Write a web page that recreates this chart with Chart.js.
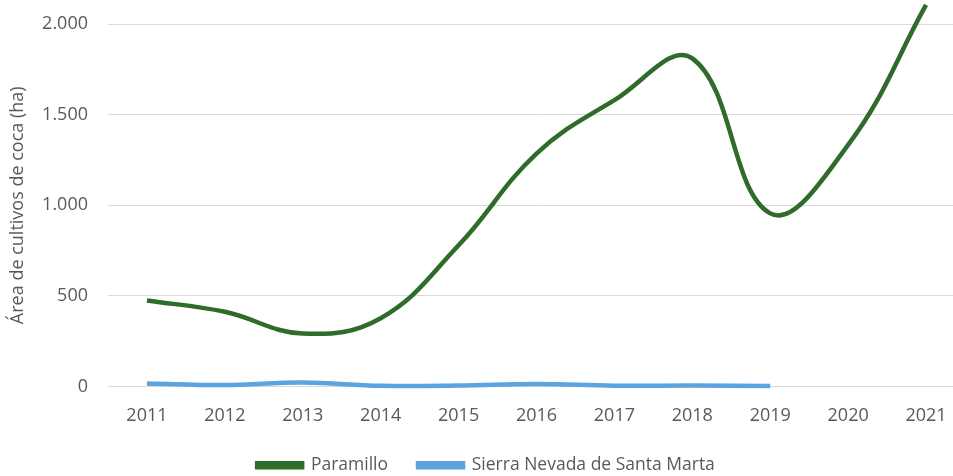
<!DOCTYPE html>
<html>
<head>
<meta charset="utf-8">
<script src="https://cdn.jsdelivr.net/npm/chart.js@4"></script>
<style>
  html, body { margin: 0; padding: 0; background: #fff; overflow: hidden; }
  #wrap { width: 966px; height: 476px; }
</style>
</head>
<body>
<div id="wrap"><canvas id="lineChart"></canvas></div>
<script>
// Years on the x axis
const years = ['2011', '2012', '2013', '2014', '2015', '2016', '2017', '2018', '2019', '2020', '2021'];

// Coca area (ha) per park
const paramillo = [475, 412, 292, 377, 779, 1285, 1580, 1810, 955, 1333, 2105];
const sierraNevada = [17, 8, 22, 4, 5, 14, 4, 5, 3, null, null];

const yTicks = [0, 500, 1000, 1500, 2000];

const grey = '#595959';
const font = { family: '"Open Sans", sans-serif', size: 18 };

const canvas = document.getElementById('lineChart');
canvas.width = 966;
canvas.height = 476;

new Chart(canvas, {
    type: 'line',
    data: {
        labels: years,
        datasets: [
            {
                label: 'Paramillo',
                data: paramillo,
                borderColor: '#2f6b29',
                backgroundColor: '#2f6b29',
                borderWidth: 4.5,
                pointRadius: 0,
                tension: 0.4,
                clip: false
            },
            {
                label: 'Sierra Nevada de Santa Marta',
                data: sierraNevada,
                borderColor: '#5ba4e0',
                backgroundColor: '#5ba4e0',
                borderWidth: 4.5,
                pointRadius: 0,
                tension: 0.4,
                clip: false
            }
        ]
    },
    options: {
        responsive: false,
        animation: false,
        layout: { padding: { top: 24, right: 1, bottom: -8, left: 7 } },
        plugins: {
            tooltip: { enabled: false },
            legend: {
                position: 'bottom',
                labels: {
                    color: grey,
                    font: { family: font.family, size: 17.5 },
                    boxWidth: 45,
                    boxHeight: 4,
                    padding: 30
                }
            }
        },
        scales: {
            x: {
                offset: true,
                grid: { display: false },
                border: { display: false },
                ticks: { color: grey, font: font, padding: 11, maxRotation: 0 },
                afterFit: axis => { axis.height = 40; }
            },
            y: {
                min: 0,
                max: 2000,
                afterBuildTicks: axis => { axis.ticks = yTicks.map(v => ({ value: v })); },
                grid: { color: '#d9d9d9', lineWidth: 1, drawTicks: false },
                border: { display: false },
                title: {
                    display: true,
                    text: 'Área de cultivos de coca (ha)',
                    color: grey,
                    font: font,
                    padding: { top: 0, bottom: 0 }
                },
                ticks: {
                    color: grey,
                    font: font,
                    padding: 20,
                    callback: v => v.toLocaleString('de-DE')
                },
                afterFit: axis => {
                    axis.width = 101;
                    axis.paddingTop = 0;
                    axis.paddingBottom = 0;
                }
            }
        }
    }
});
</script>
</body>
</html>
